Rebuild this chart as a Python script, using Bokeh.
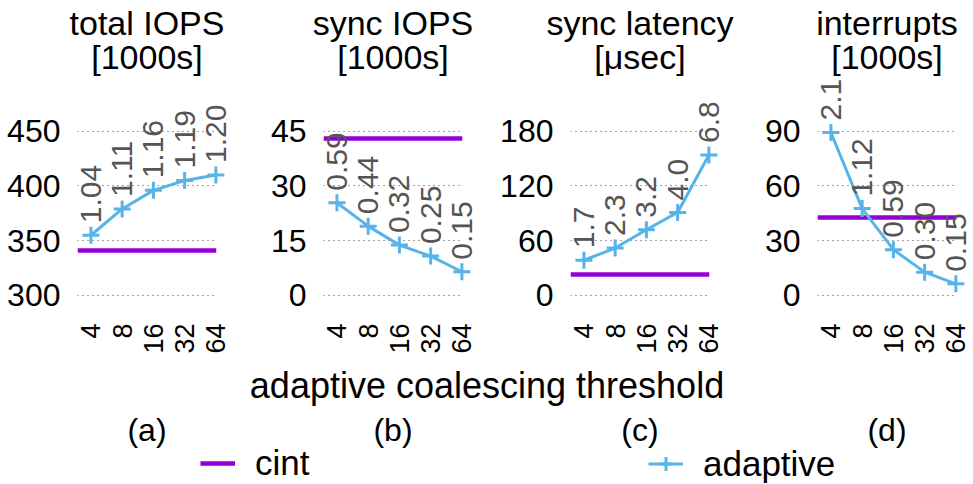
import math
from bokeh.plotting import figure
from bokeh.core.properties import value
from bokeh.models import (ColumnDataSource, FixedTicker, Label,
                          Legend, LegendItem, Range1d)
from bokeh.layouts import column, row
from bokeh.embed import file_html
from bokeh.resources import INLINE

# ---------------- data ----------------
categories = ["4", "8", "16", "32", "64"]

total_iops_adaptive = [355, 379, 396, 405, 410]
total_iops_cint = 341
total_iops_ratio = ["1.04", "1.11", "1.16", "1.19", "1.20"]
total_iops_ticks = [300, 350, 400, 450]

sync_iops_adaptive = [25.4, 19.0, 13.8, 10.8, 6.5]
sync_iops_cint = 43.1
sync_iops_ratio = ["0.59", "0.44", "0.32", "0.25", "0.15"]
sync_iops_ticks = [0, 15, 30, 45]

sync_lat_adaptive = [38.6, 52, 72, 91, 154]
sync_lat_cint = 22.7
sync_lat_ratio = ["1.7", "2.3", "3.2", "4.0", "6.8"]
sync_lat_ticks = [0, 60, 120, 180]

interrupts_adaptive = [89.3, 47.6, 25.1, 12.8, 6.4]
interrupts_cint = 42.5
interrupts_ratio = ["2.1", "1.12", "0.59", "0.30", "0.15"]
interrupts_ticks = [0, 30, 60, 90]

titles = [("total IOPS", "[1000s]"), ("sync IOPS", "[1000s]"),
          ("sync latency", "[\u03bcsec]"), ("interrupts", "[1000s]")]
panel_letters = ["(a)", "(b)", "(c)", "(d)"]
x_title = "adaptive coalescing threshold"

# ---------------- style ----------------
FONT = "Liberation Sans"
ADAPT = "#56B4E9"
CINT = "#9400D3"
PANEL_H = 365
FRAME_TOP = 90
FRAME_BOTTOM = 305
FRAME_W = 139
X_START, X_END = -0.43, 4.02
widths = [246, 246, 247, 234]
lefts = [77, 77, 78, 78]
TITLE_BASELINES = (22, 56)   # px from the top of the picture (as rendered offsets)


def make_panel(i, adaptive, cint, ratio, yticks):
    step = yticks[1] - yticks[0]
    y0 = yticks[0] - 0.1826 * step
    y1 = yticks[-1] + 0.743 * step
    w = widths[i]
    bl = lefts[i]
    br = w - bl - FRAME_W
    p = figure(width=w, height=PANEL_H,
               x_range=Range1d(X_START, X_END), y_range=Range1d(y0, y1),
               output_backend="svg", toolbar_location=None,
               title_location=None,
               min_border_left=bl, min_border_right=br,
               min_border_top=FRAME_TOP, min_border_bottom=PANEL_H - FRAME_BOTTOM)
    p.outline_line_color = None
    p.background_fill_color = None
    p.border_fill_color = None

    idx = list(range(len(categories)))
    src = ColumnDataSource(dict(x=idx, y=adaptive, lab=ratio))

    p.hspan(y=[cint], line_color=CINT, line_width=4.5)
    p.line("x", "y", source=src, line_color=ADAPT, line_width=3, level="annotation")
    p.scatter("x", "y", source=src, marker="cross", size=17, line_color=ADAPT,
              line_width=3, level="annotation")
    p.text(x="x", y="y", text="lab", source=src, angle=math.pi / 2,
           text_align="left", text_baseline="middle", y_offset=-12,
           text_font=value(FONT), text_font_size="30px", text_color="#555555",
           level="annotation")

    p.xaxis.ticker = FixedTicker(ticks=idx)
    p.xaxis.major_label_overrides = {k: c for k, c in zip(idx, categories)}
    p.xaxis.major_label_orientation = math.pi / 2
    p.yaxis.ticker = FixedTicker(ticks=yticks)
    for ax in (p.xaxis, p.yaxis):
        ax.axis_line_color = None
        ax.major_tick_line_color = None
        ax.minor_tick_line_color = None
        ax.major_label_text_font = FONT
        ax.major_label_text_color = "black"
    p.xaxis.major_label_text_font_size = "27px"
    p.xaxis.major_label_standoff = 12
    p.yaxis.major_label_text_font_size = "32px"
    p.yaxis.major_label_standoff = 11

    p.xgrid.grid_line_color = None
    p.ygrid.grid_line_color = "#444444"
    p.ygrid.grid_line_dash = "1 4"
    p.ygrid.grid_line_width = 1

    # two centred title lines just above the frame top
    tsrc = ColumnDataSource(dict(
        x=[(X_START + X_END) / 2] * 2, y=[y1, y1], txt=list(titles[i]),
        dy=[b - FRAME_TOP for b in TITLE_BASELINES]))
    p.text(x="x", y="y", text="txt", y_offset="dy", source=tsrc,
           text_align="center", text_baseline="alphabetic",
           text_font=value(FONT), text_font_size="34px", text_color="black",
           level="annotation")
    return p


panels = [
    make_panel(0, total_iops_adaptive, total_iops_cint, total_iops_ratio, total_iops_ticks),
    make_panel(1, sync_iops_adaptive, sync_iops_cint, sync_iops_ratio, sync_iops_ticks),
    make_panel(2, sync_lat_adaptive, sync_lat_cint, sync_lat_ratio, sync_lat_ticks),
    make_panel(3, interrupts_adaptive, interrupts_cint, interrupts_ratio, interrupts_ticks),
]

# ---------------- bottom strip: axis title, panel letters, legend ----------------
BOT_H = 484 - PANEL_H
bot = figure(width=973, height=BOT_H, x_range=Range1d(0, 973), y_range=Range1d(0, BOT_H),
             output_backend="svg", toolbar_location=None, title_location=None,
             x_axis_type=None, y_axis_type=None, min_border=0)
bot.outline_line_color = None
bot.grid.visible = False
bot.background_fill_color = None
bot.border_fill_color = None

bot.add_layout(Label(x=973 / 2, y=BOT_H - 20, text=x_title, text_align="center",
                     text_baseline="alphabetic", text_font=FONT, text_font_size="36px",
                     text_color="black"))
xpos = 0
for i, letter in enumerate(panel_letters):
    cx = xpos + lefts[i] + FRAME_W / 2
    bot.add_layout(Label(x=cx, y=BOT_H - 64, text=letter, text_align="center",
                         text_baseline="alphabetic", text_font=FONT, text_font_size="32px",
                         text_color="black"))
    xpos += widths[i]

# legend-only renderers (a single NaN row, so nothing is drawn in the strip itself)
dummy = ColumnDataSource(dict(x=[float("nan")], y=[float("nan")]))
r_cint = bot.line("x", "y", source=dummy, line_color=CINT, line_width=4.5)
r_al = bot.line("x", "y", source=dummy, line_color=ADAPT, line_width=3)
r_ap = bot.scatter("x", "y", source=dummy, marker="cross", size=17, line_color=ADAPT, line_width=3)

for label, rends, loc, gh in [("cint", [r_cint], (200, 1), 20),
                              ("adaptive", [r_al, r_ap], (648, -2), 45)]:
    lg = Legend(items=[LegendItem(label=label, renderers=rends)], location=loc,
                orientation="horizontal", padding=0, margin=0, spacing=0,
                glyph_width=35, glyph_height=gh, label_standoff=20,
                label_text_font=FONT, label_text_font_size="35px",
                label_text_color="black",
                background_fill_alpha=0, border_line_alpha=0)
    bot.add_layout(lg)

layout = column(row(*panels, spacing=0), bot, spacing=0)
open("out.html", "w").write(file_html(layout, INLINE))
